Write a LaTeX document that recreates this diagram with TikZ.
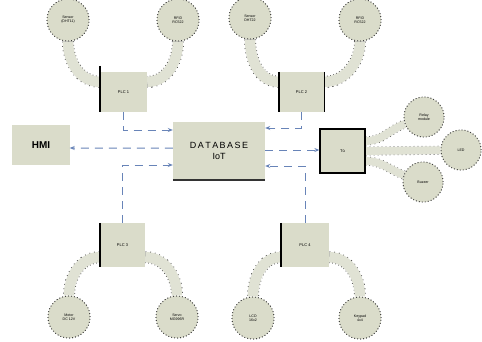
\documentclass[tikz,border=0pt]{standalone}
\usepackage{fontspec}
\setmainfont{Liberation Sans}
\usetikzlibrary{arrows.meta,calc}
\definecolor{boxfill}{RGB}{218,220,202}
\definecolor{pipefill}{RGB}{224,226,212}
\definecolor{linkblue}{RGB}{104,132,184}
\tikzset{
  x=1bp, y=-1bp,
  unit/.style={draw=none, fill=boxfill, minimum width=46bp, minimum height=41bp, inner sep=0pt,
               font=\fontsize{4}{4.5}\selectfont},
  device/.style={circle, draw=black!75, dash pattern=on 0.8bp off 2.2bp, line width=0.9bp,
                 fill=boxfill, minimum size=42bp, inner sep=0pt, align=center,
                 font=\fontsize{3.6}{4.2}\selectfont},
  pipeedge/.style={line width=12bp, draw=black!70, dash pattern=on 0.8bp off 3.2bp},
  pipebody/.style={line width=10.4bp, draw=pipefill},
  link/.style={draw=linkblue, line width=1bp, dash pattern=on 8bp off 6bp,
               -{Stealth[length=5bp,width=4bp]}},
  thickside/.style={line width=1.4bp, black}
}
\begin{document}
\begin{tikzpicture}
\useasboundingbox (0,0) rectangle (482,341);
\fill[white] (0,0) rectangle (482,341);

% field devices
\node[device] (c1) at (68,20) {Sensor\\(DHT11)};
\node[device] (c2) at (178,20) {RFID\\RC522};
\node[device] (c3) at (250,18) {Sensor\\DHT22};
\node[device] (c4) at (360,20) {RFID\\RC522};
\node[device, minimum size=40bp] (r1) at (424,117) {Relay\\module};
\node[device, minimum size=40bp] (r2) at (461,150) {LED};
\node[device, minimum size=40bp] (r3) at (423,182) {Buzzer};
\node[device] (c5) at (69,317) {Motor\\DC 12V};
\node[device] (c6) at (177,317) {Servo\\MG996R};
\node[device] (c7) at (253,318) {LCD\\16x2};
\node[device] (c8) at (360,318) {Keypad\\4x4};

% controller units (placed first so the pipes can refer to them)
\node[unit, minimum width=47bp, minimum height=40bp] (b1) at (123.5,92) {PLC 1};
\node[unit, minimum width=45bp, minimum height=40bp] (b2) at (301.5,92) {PLC 2};
\node[unit, minimum width=45bp, minimum height=44bp] (b3) at (122.5,245) {PLC 3};
\node[unit, minimum width=48bp, minimum height=44bp] (b4) at (305,245) {PLC 4};
\node[unit, draw=black, line width=1.3bp, minimum width=45bp, minimum height=44bp] (rb) at (342.5,151) {Tủ};
\node[unit, minimum width=57bp, minimum height=40bp, font=\bfseries\fontsize{10}{11}\selectfont] (hmi) at (41,145) {HMI};
\node[unit, minimum width=92bp, minimum height=58bp, align=center,
      font=\fontsize{9}{11}\selectfont] (db) at (219,151) {D\,A\,T\,A\,B\,A\,S\,E\\IoT};

% cable pipes between devices and units
\foreach \s in {pipeedge,pipebody}{
  \draw[\s] (c1.south) to[out=-90,in=180] ([yshift=-10bp]b1.north west);
  \draw[\s] (c2.south) to[out=-90,in=0]   ([yshift=-10bp]b1.north east);
  \draw[\s] (c3.south) to[out=-90,in=180] ([yshift=-10bp]b2.north west);
  \draw[\s] (c4.south) to[out=-90,in=0]   ([yshift=-10bp]b2.north east);
  \draw[\s] ([yshift=10bp]b3.south west) to[out=180,in=90] (c5.north);
  \draw[\s] ([yshift=10bp]b3.south east) to[out=0,in=90]   (c6.north);
  \draw[\s] ([yshift=10bp]b4.south west) to[out=180,in=90] (c7.north);
  \draw[\s] ([yshift=10bp]b4.south east) to[out=0,in=90]   (c8.north);
}
\foreach \s in {pipeedge,pipebody}{
  \draw[\s, line width=0.75*\pgflinewidth] ([yshift=10bp]rb.east) to[out=0,in=200] (r1);
  \draw[\s, line width=0.75*\pgflinewidth] (rb.east) -- (r2);
  \draw[\s, line width=0.75*\pgflinewidth] ([yshift=-10bp]rb.east) to[out=0,in=160] (r3);
}
% redraw the units over the pipe ends
\node[unit, minimum width=47bp, minimum height=40bp] at (b1) {PLC 1};
\node[unit, minimum width=45bp, minimum height=40bp] at (b2) {PLC 2};
\node[unit, minimum width=45bp, minimum height=44bp] at (b3) {PLC 3};
\node[unit, minimum width=48bp, minimum height=44bp] at (b4) {PLC 4};
\node[unit, draw=black, line width=1.3bp, minimum width=45bp, minimum height=44bp] at (rb) {Tủ};
% redraw the devices over their pipe ends
\node[device, minimum size=40bp] at (r1) {Relay\\module};
\node[device, minimum size=40bp] at (r2) {LED};
\node[device, minimum size=40bp] at (r3) {Buzzer};
\foreach \c/\t in {c1/{Sensor\\(DHT11)},c2/{RFID\\RC522},c3/{Sensor\\DHT22},c4/{RFID\\RC522},
                   c5/{Motor\\DC 12V},c6/{Servo\\MG996R},c7/{LCD\\16x2},c8/{Keypad\\4x4}}
  \node[device] at (\c) {\t};

% solid edges on the unit sides
\draw[thickside] ([yshift=6bp]b1.north west) -- (b1.south west);
\draw[thickside] (b2.north west) -- (b2.south west);
\draw[thickside] (b2.north east) -- (b2.south east);
\draw[thickside] (b3.north west) -- (b3.south west);
\draw[thickside] (b4.north west) -- (b4.south west);
\draw[line width=2bp, black!80] (db.south west) -- (db.south east);

% data links
\draw[link] (b1.south) |- ([yshift=21bp]db.west);
\draw[link] ([yshift=3bp]db.west) -- ([yshift=-3bp]hmi.east);
\draw[link] (b3.north) |- ([yshift=-14bp]db.west);
\draw[link] (b2.south) |- ([yshift=23bp]db.east);
\draw[link] ([yshift=1bp]db.east) -- ([yshift=1bp]rb.west);
\draw[link] (b4.north) |- ([yshift=-15bp]db.east);
\end{tikzpicture}
\end{document}
